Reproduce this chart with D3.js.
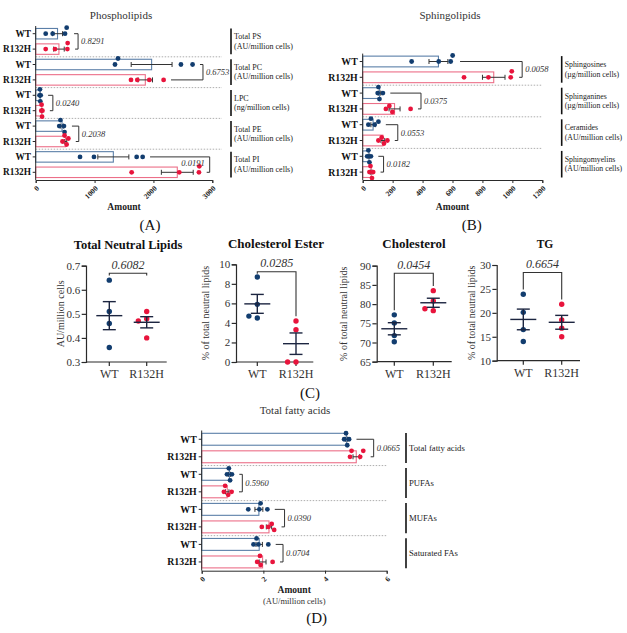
<!DOCTYPE html>
<html><head><meta charset="utf-8">
<script src="https://cdn.jsdelivr.net/npm/d3@7"></script>
<style>body{margin:0;background:#fff}</style>
</head><body>
<svg id="c" width="627" height="633"></svg>
<script>
// ---------- DATA ----------
const groups = ["WT", "R132H"];

// Panel A: Phospholipids
const phosphoClasses = ["Total PS", "Total PC", "LPC", "Total PE", "Total PI"];
const phosphoUnits = ["(AU/million cells)", "(AU/million cells)", "(ng/million cells)", "(AU/million cells)", "(AU/million cells)"];
const phosphoWT = [[170, 289, 498, 526], [1347, 1398, 2467, 2665], [65, 72, 78, 85], [400, 420, 480, 490], [753, 990, 1715, 1817]];
const phosphoR132H = [[170, 328, 538, 543], [1619, 1726, 1930, 2173], [95, 100, 108, 115], [455, 490, 525, 555], [1630, 2439, 2773, 2779]];
const phosphoP = ["0.8291", "0.6753", "0.0240", "0.2038", "0.0191"];
const phosphoTicks = [0, 1000, 2000, 3000];

// Panel B: Sphingolipids
const sphingoClasses = ["Sphingosines", "Sphinganines", "Ceramides", "Sphingomyelins"];
const sphingoUnits = ["(\u00b5g/million cells)", "(\u00b5g/million cells)", "(AU/million cells)", "(AU/million cells)"];
const sphingoWT = [[327, 508, 588, 601], [100, 105, 112, 135], [38, 55, 80, 105], [30, 38, 45, 55]];
const sphingoR132H = [[677, 840, 989, 996], [155, 178, 198, 320], [105, 127, 142, 165], [45, 52, 62, 70]];
const sphingoP = ["0.0058", "0.0375", "0.0553", "0.0182"];
const sphingoTicks = [0, 200, 400, 600, 800, 1000, 1200];

// Panel C: Neutral lipids
const neutralTitles = ["Total Neutral Lipids", "Cholesterol Ester", "Cholesterol", "TG"];
const neutralYLabels = ["AU/million cells", "% of total neutral lipids", "% of total neutral lipids", "% of total neutral lipids"];
const neutralWT = [[0.64, 0.51, 0.46, 0.36], [8.7, 5.9, 4.5, 4.7], [77.2, 75.1, 71.8, 70.2], [23.9, 20.1, 16.5, 14.0]];
const neutralR132H = [[0.51, 0.48, 0.47, 0.40], [4.2, 3.3, 0.0, 0.0], [83.5, 80.8, 78.3, 78.8], [21.8, 18.5, 16.8, 15.0]];
const neutralP = ["0.6082", "0.0285", "0.0454", "0.6654"];
const neutralDomains = [[0.3, 0.7], [0, 10], [65, 90], [10, 30]];
const neutralTicks = [[0.3, 0.4, 0.5, 0.6, 0.7], [0, 2, 4, 6, 8, 10], [65, 70, 75, 80, 85, 90], [10, 15, 20, 25, 30]];

// Panel D: Fatty acids
const faClasses = ["Total fatty acids", "PUFAs", "MUFAs", "Saturated FAs"];
const faWT = [[4.62, 4.68, 4.72, 4.78], [0.82, 0.88, 0.92, 0.98], [1.51, 1.87, 1.91, 2.13], [1.68, 1.78, 1.84, 2.16]];
const faR132H = [[4.81, 4.86, 5.14, 5.24], [0.72, 0.76, 0.86, 0.97], [1.95, 2.16, 2.27, 2.35], [1.80, 1.89, 1.91, 2.30]];
const faP = ["0.0665", "0.5960", "0.0390", "0.0704"];
const faTicks = [0, 2, 4, 6];

// ---------- DRAWING ----------
const svg = d3.select("#c");
const SERIF = "'Liberation Serif','Times New Roman',Times,serif";
const COL = {wtDot: "#123d6f", rDot: "#e8143c", wtBar: "#5b7fa8", rBar: "#ec6f88", err: "#333", axis: "#2a2a2a", txt: "#222"};
const semOf = a => d3.deviation(a) / Math.sqrt(a.length);

function swarm(vals, scale, r, step) {
  const placed = [];
  return vals.map(v => {
    const p = scale(v);
    for (const k of [0, -1, 1, -2, 2, -3, 3]) {
      const o = k * step;
      if (placed.every(q => Math.hypot(q.p - p, q.o - o) >= 2 * r * 0.9)) { placed.push({p, o}); return o; }
    }
    placed.push({p, o: 0}); return 0;
  });
}

function text(g, x, y, s, size, opts = {}) {
  return g.append("text").attr("x", x).attr("y", y).text(s)
    .attr("font-family", SERIF).attr("font-size", size)
    .attr("font-weight", opts.bold ? "bold" : "normal")
    .attr("font-style", opts.italic ? "italic" : "normal")
    .attr("text-anchor", opts.anchor || "start")
    .attr("fill", opts.fill || COL.txt)
    .attr("dominant-baseline", opts.base || "auto");
}

function barPanel(cfg) {
  const g = svg.append("g");
  const x = d3.scaleLinear().domain([0, cfg.ticks[cfg.ticks.length - 1]]).range([cfg.x0, cfg.x1]);
  const gy = d3.scaleBand().domain(cfg.classes).range([cfg.top, cfg.bottom]);
  const iy = d3.scalePoint().domain(groups).range([0, gy.bandwidth()]).padding(0.5);
  const bh = iy.step() * 0.68;
  const dotR = 2.4;

  cfg.classes.forEach((c, i) => {
    if (i === 0) return;
    g.append("line").attr("x1", cfg.x0).attr("x2", cfg.sepEnd).attr("y1", gy(c)).attr("y2", gy(c))
      .attr("stroke", "#999").attr("stroke-width", 0.8).attr("stroke-dasharray", "1.5,1.5");
  });

  cfg.classes.forEach((c, i) => {
    const sets = [cfg.wt[i], cfg.r[i]];
    const ext = [];
    sets.forEach((vals, gi) => {
      const yc = gy(c) + iy(groups[gi]);
      const m = d3.mean(vals), s = semOf(vals);
      g.append("rect").attr("x", cfg.x0).attr("y", yc - bh / 2).attr("width", x(m) - cfg.x0).attr("height", bh)
        .attr("fill", "none").attr("stroke", gi === 0 ? COL.wtBar : COL.rBar).attr("stroke-width", 1.1);
      g.append("line").attr("x1", x(m - s)).attr("x2", x(m + s)).attr("y1", yc).attr("y2", yc).attr("stroke", COL.err).attr("stroke-width", 1);
      [m - s, m + s].forEach(v => g.append("line").attr("x1", x(v)).attr("x2", x(v)).attr("y1", yc - 2.5).attr("y2", yc + 2.5).attr("stroke", COL.err).attr("stroke-width", 1));
      const offs = swarm(vals, x, dotR, 3);
      vals.forEach((v, k) => g.append("circle").attr("cx", x(v)).attr("cy", yc + offs[k]).attr("r", dotR)
        .attr("fill", gi === 0 ? COL.wtDot : COL.rDot));
      g.append("line").attr("x1", cfg.x0 - 3).attr("x2", cfg.x0).attr("y1", yc).attr("y2", yc).attr("stroke", COL.axis);
      text(g, cfg.rowLabelX, yc, groups[gi], cfg.rowFont, {bold: true, anchor: "end", base: "central", fill: "#111"});
      ext.push(Math.max(x(d3.max(vals)) + dotR, x(m + s)) + 5);
    });
    const yW = gy(c) + iy("WT"), yR = gy(c) + iy("R132H");
    const bx = Math.max(ext[0], ext[1]) + 3;
    g.append("path").attr("d", `M${ext[0]},${yW}H${bx}V${yR}H${ext[1]}`).attr("fill", "none").attr("stroke", COL.err).attr("stroke-width", 1);
    const t = text(g, bx + 3, (yW + yR) / 2, cfg.p[i], cfg.pFont, {italic: true, base: "central", fill: "#333"});
    const w = t.node().getComputedTextLength();
    if (bx + 3 + w > cfg.labelBarX + 3) {
      t.attr("x", bx - 5).attr("text-anchor", "end").attr("y", (yW + yR) / 2 - 2);
    }
    g.append("line").attr("x1", cfg.labelBarX).attr("x2", cfg.labelBarX).attr("y1", gy(c) + 2.5).attr("y2", gy(c) + gy.bandwidth() - 2.5)
      .attr("stroke", "#111").attr("stroke-width", 1.6);
    const cy = gy(c) + gy.bandwidth() / 2;
    if (cfg.units) {
      text(g, cfg.labelBarX + 3, cy - 4.7, c, cfg.unitFont, {base: "central"});
      text(g, cfg.labelBarX + 3, cy + 4.7, cfg.units[i], cfg.unitFont, {base: "central"});
    } else {
      text(g, cfg.labelBarX + 3, cy, c, cfg.unitFont, {base: "central"});
    }
  });

  g.append("line").attr("x1", cfg.x0).attr("x2", cfg.x0).attr("y1", cfg.top).attr("y2", cfg.bottom).attr("stroke", COL.axis).attr("stroke-width", 1);
  const ax = g.append("g").attr("transform", `translate(0,${cfg.bottom})`)
    .call(d3.axisBottom(x).tickValues(cfg.ticks).tickSize(3).tickFormat(d3.format("d")));
  ax.select(".domain").attr("stroke", COL.axis);
  ax.selectAll(".tick line").attr("stroke", COL.axis);
  ax.selectAll("text").attr("font-family", SERIF).attr("font-size", 7.5).attr("font-weight", "bold").attr("fill", "#222")
    .attr("text-anchor", "end").attr("x", 0).attr("y", 0).attr("dy", "0.35em")
    .attr("transform", "translate(1.5,7) rotate(-45)");

  const mid = (cfg.x0 + cfg.x1) / 2;
  text(g, cfg.titleX, cfg.titleY, cfg.title, 11, {anchor: "middle", fill: "#333"});
  text(g, mid, cfg.amountY, "Amount", 9.5, {anchor: "middle", bold: true, fill: "#222"});
  if (cfg.amountSub) text(g, mid, cfg.amountY + 11, cfg.amountSub, 8.5, {anchor: "middle", fill: "#333"});
  text(g, cfg.letterX, cfg.letterY, cfg.letter, 15, {anchor: "middle", fill: "#111"});
}

barPanel({classes: phosphoClasses, units: phosphoUnits, wt: phosphoWT, r: phosphoR132H, p: phosphoP, ticks: phosphoTicks,
  x0: 35.7, x1: 212.3, top: 26, bottom: 180, rowLabelX: 31, labelBarX: 231, sepEnd: 222,
  title: "Phospholipids", titleX: 121, titleY: 18.5, amountY: 210, letter: "(A)", letterX: 150, letterY: 230,
  rowFont: 9.3, unitFont: 8, pFont: 8.5});

barPanel({classes: sphingoClasses, units: sphingoUnits, wt: sphingoWT, r: sphingoR132H, p: sphingoP, ticks: sphingoTicks,
  x0: 362.7, x1: 542.3, top: 53.6, bottom: 180, rowLabelX: 357.7, labelBarX: 561.7, sepEnd: 542.3,
  title: "Sphingolipids", titleX: 450, titleY: 18.5, amountY: 210, letter: "(B)", letterX: 471.7, letterY: 230,
  rowFont: 9.8, unitFont: 7.8, pFont: 8.5});

barPanel({classes: faClasses, units: null, wt: faWT, r: faR132H, p: faP, ticks: faTicks,
  x0: 201.7, x1: 386.7, top: 430.5, bottom: 570.7, rowLabelX: 196.7, labelBarX: 406, sepEnd: 386.7,
  title: "Total fatty acids", titleX: 295, titleY: 413.5, amountY: 593.3, amountSub: "(AU/million cells)",
  letter: "(D)", letterX: 316.7, letterY: 623, rowFont: 9.8, unitFont: 8.7, pFont: 8.5});

const scatterLayout = [
  {x0: 86, wtX: 109.3, rX: 146.7, x1: 166.7, top: 265.7, bottom: 362, ylabX: 60, titleX: 128, titleY: 249, titleSize: 12.5, fmt: ".1f", shortArms: true},
  {x0: 236, wtX: 257.3, rX: 296, x1: 313.3, top: 264.3, bottom: 362, ylabX: 205, titleX: 276, titleY: 247.5, titleSize: 13, fmt: "d"},
  {x0: 376.7, wtX: 394.3, rX: 433.3, x1: 451.7, top: 265.7, bottom: 361.7, ylabX: 343.3, titleX: 414, titleY: 248, titleSize: 13, fmt: "d"},
  {x0: 496.7, wtX: 523.3, rX: 561.7, x1: 580, top: 265, bottom: 360.7, ylabX: 471.7, titleX: 545, titleY: 247.5, titleSize: 11.5, fmt: "d"}
];

scatterLayout.forEach((L, i) => {
  const g = svg.append("g");
  const y = d3.scaleLinear().domain(neutralDomains[i]).range([L.bottom, L.top]);
  const x = d3.scalePoint().domain(groups).range([L.wtX, L.rX]);
  const r = 2.7;
  const ay = g.append("g").attr("transform", `translate(${L.x0},0)`)
    .call(d3.axisLeft(y).tickValues(neutralTicks[i]).tickSize(4.3).tickPadding(1.5).tickFormat(d3.format(L.fmt)));
  ay.select(".domain").attr("stroke", COL.axis).attr("stroke-width", 1.2);
  ay.selectAll(".tick line").attr("stroke", COL.axis).attr("stroke-width", 1.2);
  ay.selectAll("text").attr("font-family", SERIF).attr("font-size", 11).attr("fill", "#333");
  g.append("line").attr("x1", L.x0).attr("x2", L.x1).attr("y1", L.bottom).attr("y2", L.bottom).attr("stroke", COL.axis).attr("stroke-width", 1.2);
  groups.forEach(gr => {
    g.append("line").attr("x1", x(gr)).attr("x2", x(gr)).attr("y1", L.bottom).attr("y2", L.bottom + 4).attr("stroke", COL.axis).attr("stroke-width", 1.2);
    text(g, x(gr), L.bottom + 16, gr, 12, {anchor: "middle", fill: "#333"});
  });
  const sets = [neutralWT[i], neutralR132H[i]];
  const tops = [];
  sets.forEach((vals, gi) => {
    const cx = x(groups[gi]);
    const m = d3.mean(vals), s = semOf(vals);
    const offs = swarm(vals, y, r, 4.2);
    vals.forEach((v, k) => g.append("circle").attr("cx", cx + offs[k]).attr("cy", y(v)).attr("r", r)
      .attr("fill", gi === 0 ? COL.wtDot : COL.rDot));
    const ec = "#1c2540";
    g.append("line").attr("x1", cx - 13).attr("x2", cx + 13).attr("y1", y(m)).attr("y2", y(m)).attr("stroke", ec).attr("stroke-width", 1.4);
    g.append("line").attr("x1", cx).attr("x2", cx).attr("y1", y(m - s)).attr("y2", y(m + s)).attr("stroke", ec).attr("stroke-width", 1.4);
    [m - s, m + s].forEach(v => g.append("line").attr("x1", cx - 6.5).attr("x2", cx + 6.5).attr("y1", y(v)).attr("y2", y(v)).attr("stroke", ec).attr("stroke-width", 1.4));
    tops.push(Math.min(y(d3.max(vals)) - r - 2, y(m + s) - 2));
  });
  const by = L.top + 7.5;
  const arm = t => L.shortArms ? by + 2.2 : Math.max(by + 2, t);
  g.append("path").attr("d", `M${x("WT")},${arm(tops[0])}V${by}H${x("R132H")}V${arm(tops[1])}`)
    .attr("fill", "none").attr("stroke", "#333").attr("stroke-width", 1.1);
  text(g, (x("WT") + x("R132H")) / 2, L.top + 3, neutralP[i], 12, {anchor: "middle", italic: true, fill: "#333"});
  g.append("text").attr("transform", `translate(${L.ylabX},${(L.top + L.bottom) / 2}) rotate(-90)`)
    .attr("text-anchor", "middle").attr("dominant-baseline", "central")
    .attr("font-family", SERIF).attr("font-size", 10).attr("fill", "#333").text(neutralYLabels[i]);
  text(g, L.titleX, L.titleY, neutralTitles[i], L.titleSize, {anchor: "middle", bold: true, fill: "#111"});
});
text(svg, 310, 398, "(C)", 15, {anchor: "middle", fill: "#111"});
</script>
</body></html>
